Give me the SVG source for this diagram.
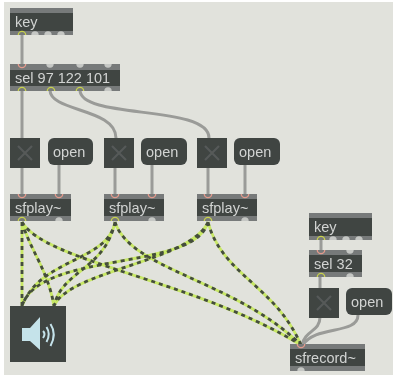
<svg xmlns="http://www.w3.org/2000/svg" width="393" height="375" viewBox="0 0 393 375">
<style>
.body{fill:#3f4443}
.band{fill:#777a7a}
.t{font-family:"Liberation Sans",Arial,sans-serif;font-size:14.5px;fill:#d2d4d2}
.c{fill:none;stroke:#9a9b98;stroke-width:3}
.ay{fill:none;stroke:#c8e866;stroke-width:2.8}
.ad{fill:none;stroke:#454e3e;stroke-width:2.8;stroke-dasharray:4 4}
.pi{fill:none;stroke:#e49a8c;stroke-width:1.3}
.po{fill:none;stroke:#c8d24c;stroke-width:1.3}
.n{fill:#c5c7c4}
.x{fill:none;stroke:#565a59;stroke-width:2.2}
.tb{fill:#3f4443}
.m{fill:#3f4443}
</style>
<defs>
<filter id="soft" x="0" y="0" width="100%" height="100%"><feGaussianBlur stdDeviation="0.4"/></filter>
<g id="tog"><rect class="tb" width="30" height="30"/><path class="x" d="M8 8L22 22M22 8L8 22"/></g>
<path id="up" d="M-3.700 0A3.700 3.700 0 0 1 3.700 0"/>
<path id="dn" d="M-3.700 0A3.700 3.700 0 0 0 3.700 0"/>
<path id="w" d="M22 222L22 306M22 222C30 250 48 270 54 306M22 222C45 262 195 280 301 345M115 222C108 262 40 258 22 306M115 222C105 270 62 270 54 306M115 222C130 270 235 280 301 345M208 222C195 272 40 250 22 306M208 222C190 262 70 270 54 306M208 222C222 275 275 285 301 345"/>
</defs>
<rect width="393" height="375" fill="#fff"/>
<rect x="4" y="2" width="389" height="373" fill="#e1e2dc"/>
<g filter="url(#soft)">
<g id="connectors">
<path class="c" d="M22 34V65M22 90V138M50 90C50 112 116 108 116 138M80 90C80 120 209 104 209 138"/>
<path class="c" d="M22 168V195M59 165V195M115 168V195M152 165V195M208 168V195M245 165V195"/>
<path class="c" d="M321 239V251M320 276V288M320 317C320 332 305 330 302 345M358 315C358 335 315 325 303 345"/>
<g id="audio">
<use href="#w" class="ay"/>
<use href="#w" class="ad"/>
</g>
</g>
<g id="key1"><rect class="band" x="10" y="8" width="63" height="27"/><rect class="body" x="10" y="13" width="63" height="18"/><text class="t" x="15" y="27">key</text><use href="#up" class="n" x="35" y="35"/><use href="#up" class="n" x="48" y="35"/><use href="#up" class="n" x="61" y="35"/><use href="#up" class="po" x="22" y="35"/></g>
<g id="sel1"><rect class="band" x="10" y="64" width="110" height="27"/><rect class="body" x="10" y="70" width="110" height="16"/><text class="t" x="15" y="83">sel 97 122 101</text><use href="#dn" class="pi" x="22" y="64"/><use href="#dn" class="n" x="50" y="64"/><use href="#dn" class="n" x="80" y="64"/><use href="#dn" class="n" x="108" y="64"/><use href="#up" class="po" x="22" y="91"/><use href="#up" class="po" x="51" y="91"/><use href="#up" class="po" x="80" y="91"/><use href="#up" class="n" x="108" y="91"/></g>
<g id="toggle1"><use href="#tog" x="10" y="138"/></g>
<g id="open1"><rect class="m" x="48" y="138" width="45" height="27" rx="6"/><text class="t" x="53" y="157">open</text></g>
<g id="toggle2"><use href="#tog" x="104" y="138"/></g>
<g id="open2"><rect class="m" x="141" y="138" width="46" height="27" rx="6"/><text class="t" x="146" y="157">open</text></g>
<g id="toggle3"><use href="#tog" x="197" y="138"/></g>
<g id="open3"><rect class="m" x="234" y="138" width="46" height="27" rx="6"/><text class="t" x="239" y="157">open</text></g>
<g id="sfplay1"><rect class="band" x="10" y="194" width="61" height="27"/><rect class="body" x="10" y="199" width="61" height="17"/><text class="t" x="15" y="213">sfplay~</text><use href="#dn" class="pi" x="22" y="194"/><use href="#dn" class="pi" x="59" y="194"/><use href="#up" class="n" x="59" y="221"/><use href="#up" class="po" x="22" y="221"/></g>
<g id="sfplay2"><rect class="band" x="104" y="194" width="60" height="27"/><rect class="body" x="104" y="199" width="60" height="17"/><text class="t" x="109" y="213">sfplay~</text><use href="#dn" class="pi" x="115" y="194"/><use href="#dn" class="pi" x="152" y="194"/><use href="#up" class="n" x="152" y="221"/><use href="#up" class="po" x="115" y="221"/></g>
<g id="sfplay3"><rect class="band" x="197" y="194" width="60" height="27"/><rect class="body" x="197" y="199" width="60" height="17"/><text class="t" x="202" y="213">sfplay~</text><use href="#dn" class="pi" x="208" y="194"/><use href="#dn" class="pi" x="245" y="194"/><use href="#up" class="n" x="245" y="221"/><use href="#up" class="po" x="208" y="221"/></g>
<g id="key2"><rect class="band" x="309" y="213" width="63" height="27"/><rect class="body" x="309" y="218" width="63" height="18"/><text class="t" x="314" y="232">key</text><use href="#up" class="n" x="333" y="240"/><use href="#up" class="n" x="346" y="240"/><use href="#up" class="n" x="359" y="240"/><use href="#up" class="po" x="321" y="240"/></g>
<g id="sel2"><rect class="band" x="309" y="250" width="53" height="27"/><rect class="body" x="309" y="255" width="53" height="17"/><text class="t" x="314" y="269">sel 32</text><use href="#dn" class="pi" x="321" y="250"/><use href="#dn" class="n" x="350" y="250"/><use href="#up" class="po" x="321" y="277"/><use href="#up" class="n" x="350" y="277"/></g>
<g id="toggle4"><use href="#tog" x="309" y="288"/></g>
<g id="open4"><rect class="m" x="346" y="288" width="46" height="27" rx="6"/><text class="t" x="351" y="307">open</text></g>
<g id="sfrecord"><rect class="band" x="290" y="344" width="75" height="27"/><rect class="body" x="290" y="349" width="75" height="17"/><text class="t" x="295" y="363">sfrecord~</text><use href="#dn" class="pi" x="301" y="344"/><use href="#up" class="n" x="301" y="371"/></g>
<g id="speaker"><rect class="body" x="10" y="306" width="56" height="56"/><path d="M22 328H30L40 317V350L30 341H22Z" fill="#c5e3ea"/><path d="M43 331Q46 334 43 338M46.500 327Q51 334 46.500 342M50.500 324Q57 334 50.500 346" fill="none" stroke="#c5e3ea" stroke-width="2"/></g>
</g>
</svg>
